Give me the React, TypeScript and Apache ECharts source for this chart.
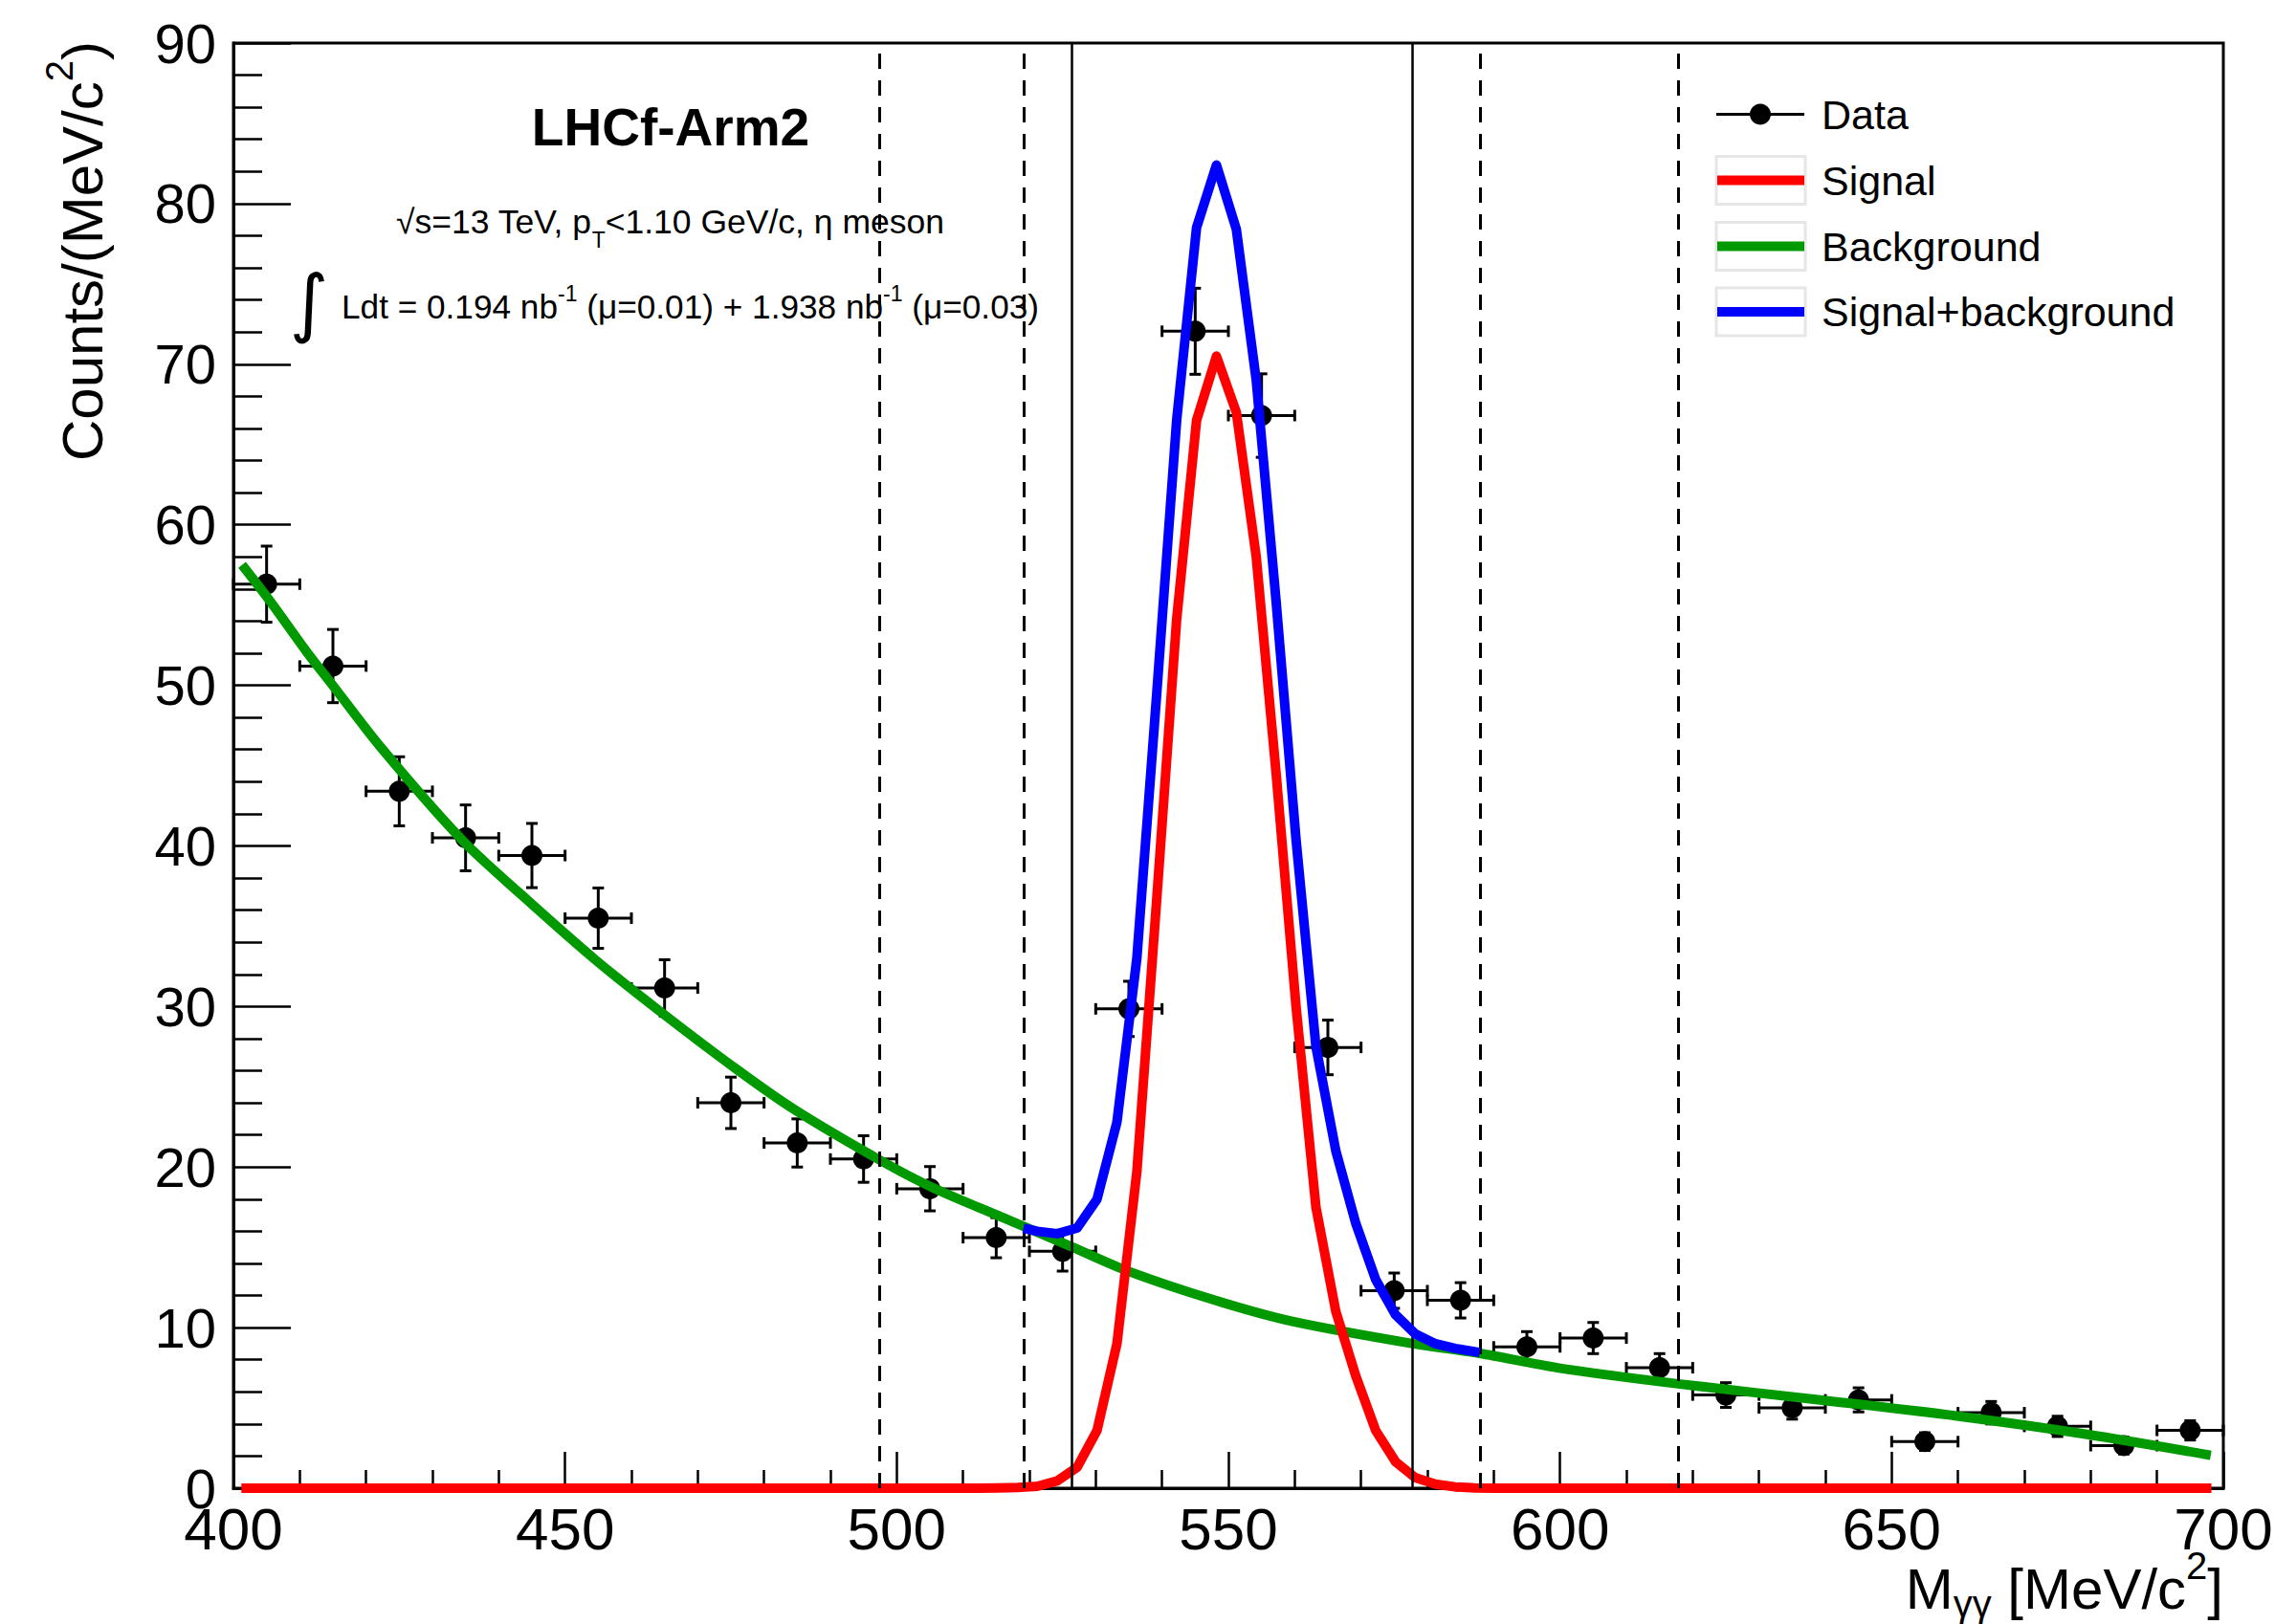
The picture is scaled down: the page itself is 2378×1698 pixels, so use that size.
import React, { useEffect, useRef } from "react";
import * as echarts from "echarts";

const FONT = '"Liberation Sans", Arial, Helvetica, sans-serif';

// ---- Data histogram: bin centres (MeV/c^2), counts and vertical errors ----
const binCenters = [405, 415, 425, 435, 445, 455, 465, 475, 485, 495, 505, 515, 525, 535, 545, 555, 565, 575, 585, 595, 605, 615, 625, 635, 645, 655, 665, 675, 685, 695];
const counts = [56.3, 51.2, 43.4, 40.5, 39.4, 35.5, 31.15, 24.0, 21.5, 20.5, 18.65, 15.6, 14.75, 29.85, 72.05, 66.8, 27.45, 12.3, 11.7, 8.8, 9.35, 7.5, 5.8, 5.0, 5.5, 2.9, 4.7, 3.85, 2.65, 3.6];
const countErrors = [2.37, 2.28, 2.15, 2.05, 2.0, 1.88, 1.76, 1.6, 1.5, 1.45, 1.38, 1.25, 1.23, 1.72, 2.68, 2.6, 1.7, 1.1, 1.1, 0.95, 0.97, 0.88, 0.77, 0.7, 0.75, 0.55, 0.7, 0.63, 0.52, 0.6];
const binHalfWidth = 5;

// ---- Signal fit (red) ----
const signalX = [401.2, 512.2, 515.2, 518.2, 521.2, 524.2, 527.2, 530.2, 533.2, 536.2, 539.2, 542.2, 545.2, 548.2, 551.2, 554.2, 557.2, 560.2, 563.2, 566.2, 569.2, 572.2, 575.2, 578.2, 581.2, 584.2, 587.2, 590.2, 698.2];
const signalY = [0, 0, 0.02, 0.05, 0.12, 0.45, 1.3, 3.6, 9.0, 19.7, 36.7, 54.1, 66.5, 70.5, 67.0, 58.0, 44.5, 30.0, 17.5, 11.0, 7.0, 3.6, 1.65, 0.65, 0.25, 0.08, 0.02, 0, 0];

// ---- Background fit (green) ----
const backgroundX = [401.3, 405.6, 411.2, 414.6, 422.3, 434.4, 443.3, 454.3, 464.3, 475.5, 484.5, 497.6, 505.5, 516.3, 526.3, 535.0, 548.0, 559.5, 577.8, 587.9, 599.6, 617.8, 639.2, 659.8, 679.5, 698.1];
const backgroundY = [57.5, 55.2, 52.0, 50.2, 46.1, 40.4, 37.0, 33.0, 29.7, 26.2, 23.6, 20.4, 18.7, 16.8, 15.05, 13.5, 11.7, 10.4, 9.0, 8.4, 7.5, 6.5, 5.5, 4.5, 3.35, 2.05];

// ---- Signal + background fit (blue) ----
const sumX = [519.1, 521.2, 524.2, 527.2, 530.2, 533.2, 536.2, 539.2, 542.2, 545.2, 548.2, 551.2, 554.2, 557.2, 560.2, 563.2, 566.2, 569.2, 572.2, 575.2, 578.2, 581.2, 584.2, 587.9];
const sumY = [16.2, 16.0, 15.85, 16.2, 18.0, 22.8, 33.0, 49.5, 66.5, 78.5, 82.4, 78.4, 69.0, 55.2, 40.4, 27.5, 21.0, 16.5, 13.0, 10.8, 9.6, 9.0, 8.7, 8.45];

// ---- Vertical region markers ----
const solidLines = [526.35, 577.8];
const dashedLines = [497.4, 519.1, 587.9, 617.8];

// ---- Axes ----
const xMin = 400, xMax = 700, xStep = 50;
const yMin = 0, yMax = 90, yStep = 10;

const legendLabels = ["Data", "Signal", "Background", "Signal+background"];
const legendColors = ["#000000", "#ff0000", "#009a00", "#0000ff"];

const pairs = (xs: number[], ys: number[]) => xs.map((x, i) => [x, ys[i]]);

function buildOption() {
  const legendRowY = [119.5, 188.5, 257.5, 326];
  const legendGraphics: any[] = [];
  legendLabels.forEach((label, i) => {
    const cy = legendRowY[i];
    if (i === 0) {
      legendGraphics.push({
        type: "line",
        shape: { x1: 1794, y1: cy, x2: 1886, y2: cy },
        style: { stroke: "#000", lineWidth: 3 },
      });
      legendGraphics.push({
        type: "circle",
        shape: { cx: 1840, cy, r: 11 },
        style: { fill: "#000" },
      });
    } else {
      legendGraphics.push({
        type: "rect",
        shape: { x: 1794, y: cy - 25, width: 93, height: 50 },
        style: { fill: "none", stroke: "#e6e6e6", lineWidth: 3 },
      });
      legendGraphics.push({
        type: "line",
        shape: { x1: 1795, y1: cy, x2: 1886, y2: cy },
        style: { stroke: legendColors[i], lineWidth: 10 },
      });
    }
    legendGraphics.push({
      type: "text",
      x: 1904,
      y: cy,
      style: {
        text: label,
        fontSize: 43,
        fontFamily: FONT,
        fill: "#000",
        align: "left",
        verticalAlign: "middle",
        textAlign: "left",
        textVerticalAlign: "middle",
      },
    });
  });

  const markData: any[] = [
    ...solidLines.map((v) => ({ xAxis: v, lineStyle: { type: "solid", width: 2.5, color: "#000" } })),
    ...dashedLines.map((v) => ({ xAxis: v, lineStyle: { type: [16, 12], width: 3, color: "#000" } })),
  ];

  return {
    animation: false,
    backgroundColor: "#ffffff",
    textStyle: { fontFamily: FONT },
    grid: {
      left: 244,
      right: 54,
      top: 45,
      bottom: 142,
      show: true,
      borderColor: "#000",
      borderWidth: 3,
      backgroundColor: "transparent",
      containLabel: false,
      outerBoundsMode: "none",
    },
    xAxis: {
      type: "value",
      min: xMin,
      max: xMax,
      interval: xStep,
      axisLine: { show: true, onZero: false, lineStyle: { color: "#000", width: 3 } },
      axisTick: { show: true, inside: true, length: 38, lineStyle: { color: "#000", width: 2.5 } },
      minorTick: { show: true, splitNumber: 5, length: 19, lineStyle: { color: "#000", width: 2.5 } },
      axisLabel: { color: "#000", fontSize: 62, lineHeight: 60, margin: 12, fontFamily: FONT, showMinLabel: true, showMaxLabel: true },
      splitLine: { show: false },
      minorSplitLine: { show: false },
    },
    yAxis: {
      type: "value",
      min: yMin,
      max: yMax,
      interval: yStep,
      axisLine: { show: true, onZero: false, lineStyle: { color: "#000", width: 3 } },
      axisTick: { show: true, inside: true, length: 60, lineStyle: { color: "#000", width: 2.5 } },
      minorTick: { show: true, splitNumber: 5, length: 30, lineStyle: { color: "#000", width: 2.5 } },
      axisLabel: { color: "#000", fontSize: 58, margin: 18, fontFamily: FONT, showMinLabel: true, showMaxLabel: true },
      splitLine: { show: false },
      minorSplitLine: { show: false },
    },
    series: [
      {
        name: "regions",
        type: "line",
        data: [],
        z: 1,
        silent: true,
        markLine: {
          silent: true,
          animation: false,
          symbol: ["none", "none"],
          label: { show: false },
          emphasis: { disabled: true },
          data: markData,
        },
      },
      {
        name: "Data",
        type: "custom",
        z: 2,
        encode: { x: 0, y: 1 },
        data: binCenters.map((x, i) => [x, counts[i], countErrors[i]]),
        renderItem: (params: any, api: any) => {
          const x = api.value(0);
          const y = api.value(1);
          const e = api.value(2);
          const c = api.coord([x, y]);
          const l = api.coord([x - binHalfWidth, y]);
          const r = api.coord([x + binHalfWidth, y]);
          const t = api.coord([x, y + e]);
          const b = api.coord([x, y - e]);
          const cap = 6;
          const st = { stroke: "#000", lineWidth: 3 };
          return {
            type: "group",
            children: [
              { type: "line", shape: { x1: l[0], y1: c[1], x2: r[0], y2: c[1] }, style: st },
              { type: "line", shape: { x1: c[0], y1: t[1], x2: c[0], y2: b[1] }, style: st },
              { type: "line", shape: { x1: l[0], y1: c[1] - cap, x2: l[0], y2: c[1] + cap }, style: st },
              { type: "line", shape: { x1: r[0], y1: c[1] - cap, x2: r[0], y2: c[1] + cap }, style: st },
              { type: "line", shape: { x1: c[0] - cap, y1: t[1], x2: c[0] + cap, y2: t[1] }, style: st },
              { type: "line", shape: { x1: c[0] - cap, y1: b[1], x2: c[0] + cap, y2: b[1] }, style: st },
              { type: "circle", shape: { cx: c[0], cy: c[1], r: 11 }, style: { fill: "#000" } },
            ],
          };
        },
      },
      {
        name: "Background",
        type: "line",
        z: 3,
        data: pairs(backgroundX, backgroundY),
        showSymbol: false,
        symbol: "none",
        smooth: 0.3,
        lineStyle: { color: "#009a00", width: 10 },
        itemStyle: { color: "#009a00" },
      },
      {
        name: "Signal",
        type: "line",
        z: 4,
        clip: false,
        data: pairs(signalX, signalY),
        showSymbol: false,
        symbol: "none",
        lineStyle: { color: "#ff0000", width: 10, join: "round" },
        itemStyle: { color: "#ff0000" },
      },
      {
        name: "Signal+background",
        type: "line",
        z: 5,
        data: pairs(sumX, sumY),
        showSymbol: false,
        symbol: "none",
        lineStyle: { color: "#0000ff", width: 10, join: "round" },
        itemStyle: { color: "#0000ff" },
      },
    ],
    graphic: [
      {
        type: "text",
        x: 701,
        y: 133,
        style: {
          text: "LHCf-Arm2",
          fontSize: 55,
          fontWeight: "bold",
          fontFamily: FONT,
          fill: "#000",
          align: "center",
          verticalAlign: "middle",
          textAlign: "center",
          textVerticalAlign: "middle",
        },
      },
      {
        type: "text",
        x: 414,
        y: 232,
        style: {
          text: "{n|√s=13 TeV, p}{s|T}{n|<1.10 GeV/c, η meson}",
          fill: "#000",
          align: "left",
          verticalAlign: "middle",
          rich: {
            n: { fontSize: 35.5, lineHeight: 48, fontFamily: FONT, fill: "#000" },
            s: { fontSize: 23, height: 10, lineHeight: 10, fontFamily: FONT, fill: "#000", verticalAlign: "bottom" },
          },
        },
      },
      {
        type: "text",
        x: 323,
        y: 316,
        style: {
          text: "∫",
          fontSize: 78,
          fontFamily: "DejaVu Sans, sans-serif",
          fill: "#000",
          align: "center",
          verticalAlign: "middle",
        },
      },
      {
        type: "text",
        x: 357,
        y: 320,
        style: {
          text: "{n|Ldt = 0.194 nb}{p|-1}{n| (μ=0.01) + 1.938 nb}{p|-1}{n| (μ=0.03)}",
          fill: "#000",
          align: "left",
          verticalAlign: "middle",
          rich: {
            n: { fontSize: 35.2, lineHeight: 44, fontFamily: FONT, fill: "#000" },
            p: { fontSize: 23, height: 18, lineHeight: 18, fontFamily: FONT, fill: "#000", verticalAlign: "top" },
          },
        },
      },
      {
        type: "text",
        x: 86,
        y: 43,
        rotation: Math.PI / 2,
        style: {
          text: "{n|Counts/(MeV/c}{p|2}{n|)}",
          fill: "#000",
          align: "right",
          verticalAlign: "middle",
          rich: {
            n: { fontSize: 60, lineHeight: 66, fontFamily: FONT, fill: "#000" },
            p: { fontSize: 40, height: 18, lineHeight: 18, fontFamily: FONT, fill: "#000", verticalAlign: "top" },
          },
        },
      },
      {
        type: "text",
        x: 2324,
        y: 1661,
        style: {
          text: "{n|M}{s|γγ}{n| [MeV/c}{p|2}{n|]}",
          fill: "#000",
          align: "right",
          verticalAlign: "middle",
          rich: {
            n: { fontSize: 60, lineHeight: 62, fontFamily: FONT, fill: "#000" },
            s: { fontSize: 40, height: 30, lineHeight: 30, fontFamily: FONT, fill: "#000", verticalAlign: "bottom" },
            p: { fontSize: 40, height: 14, lineHeight: 14, fontFamily: FONT, fill: "#000", verticalAlign: "top" },
          },
        },
      },
      ...legendGraphics,
    ],
  };
}

export default function App() {
  const ref = useRef<HTMLDivElement>(null);
  useEffect(() => {
    if (!ref.current) return;
    const chart = echarts.init(ref.current, null, { renderer: "svg" });
    chart.setOption(buildOption() as any);
    return () => chart.dispose();
  }, []);
  return (
    <div
      ref={ref}
      style={{ position: "absolute", left: 0, top: 0, width: 2378, height: 1698, background: "#fff" }}
    />
  );
}
